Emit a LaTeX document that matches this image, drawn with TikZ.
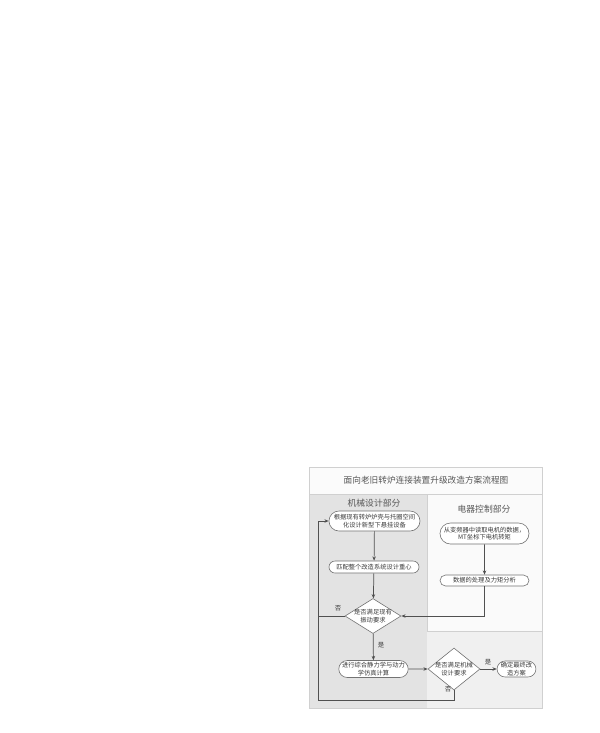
\documentclass[tikz,border=0pt]{standalone}
\usepackage{fontspec}
\newfontfamily\cjk{Noto Sans CJK SC}
\usetikzlibrary{shapes.geometric,shapes.misc,arrows.meta}
\definecolor{linec}{HTML}{505050}
\definecolor{textc}{HTML}{3A3A3A}
\definecolor{framec}{HTML}{D0D0D0}
\tikzset{
  pill/.style={rounded rectangle, draw=linec!80, line width=0.45pt, fill=white, inner sep=0pt, align=center, text=textc, font=\cjk\fontsize{4.7}{5.8}\selectfont},
  dia/.style={diamond, draw=linec!80, line width=0.45pt, fill=white, inner sep=0pt},
  dtext/.style={align=center, text=textc, font=\cjk\fontsize{4.7}{5.8}\selectfont},
  conn/.style={draw=linec, line width=0.55pt},
  arr/.style={conn, -{Stealth[length=3.2pt,width=2.6pt]}},
  lbl/.style={text=textc, font=\cjk\fontsize{4.8}{5.5}\selectfont, inner sep=0pt},
  hdr/.style={text=textc!85, font=\cjk\fontsize{6.6}{7}\selectfont, inner sep=0pt}
}
\begin{document}
\begin{tikzpicture}[x=0.75pt,y=-0.75pt]
\useasboundingbox (0,0) rectangle (600,733);
\fill[white] (0,0) rectangle (600,733);
% frame and panels
\filldraw[fill=black!6, draw=framec, line width=0.6pt] (309,467) rectangle (542,708);
\fill[black!11] (309.5,494) rectangle (427,707.5);
\filldraw[fill=black!2, draw=framec, line width=0.5pt] (427,494) rectangle (542,631);
\filldraw[fill=black!1.5, draw=framec, line width=0.5pt] (309,467) rectangle (542,494);
\node[text=textc!85, font=\cjk\fontsize{6.5}{7}\selectfont, inner sep=0pt] (title) at (426,480.5) {面向老旧转炉连接装置升级改造方案流程图};
\node[hdr] (hl) at (374,503.5) {机械设计部分};
\node[hdr] (hr) at (484,509) {电器控制部分};
% nodes
\node[pill, minimum width=91*0.75pt, minimum height=20*0.75pt] (b1) at (374.5,521) {根据现有转炉炉壳与托圈空间\\化设计新型下悬挂设备};
\node[pill, minimum width=90*0.75pt, minimum height=12*0.75pt] (b2) at (374,567) {匹配整个改造系统设计重心};
\node[dia, minimum width=56*0.75pt, minimum height=35*0.75pt, label={[dtext]center:是否满足现有\\振动要求}] (d1) at (373,616) {};
\node[pill, minimum width=89*0.75pt, minimum height=21*0.75pt] (r1) at (484.5,533.5) {从变频器中读取电机的数据，\\MT坐标下电机转矩};
\node[pill, minimum width=89*0.75pt, minimum height=11*0.75pt] (r2) at (484.5,580.5) {数据的处理及力矩分析};
\node[pill, minimum width=69*0.75pt, minimum height=17*0.75pt] (b3) at (373.5,669) {进行综合静力学与动力\\学仿真计算};
\node[dia, minimum width=52*0.75pt, minimum height=42*0.75pt, label={[dtext]center:是否满足机械\\设计要求}] (d2) at (454,669) {};
\node[pill, minimum width=37*0.75pt, minimum height=16*0.75pt] (b4) at (516.5,669) {确定最终改\\造方案};
\coordinate (cl) at (318,700);
% connectors
\draw[arr] (b1) -- (b2);
\draw[arr] (b2) -- (d1);
\draw[arr] (r1) -- (r2);
\draw[arr] (r2.south) |- (d1.east);
\draw[conn] (d1.west) -- (d1.west -| cl);
\draw[arr] (d1) -- (b3);
\draw[arr] (b3) -- (d2);
\draw[arr] (d2) -- (b4);
\draw[arr] (d2.south) |- (cl) |- (b1.west);
% labels
\node[lbl] (n1) at (338,608) {否};
\node[lbl] (y1) at (381,645) {是};
\node[lbl] (y2) at (488,662) {是};
\node[lbl] (n2) at (448,689) {否};
\end{tikzpicture}
\end{document}
